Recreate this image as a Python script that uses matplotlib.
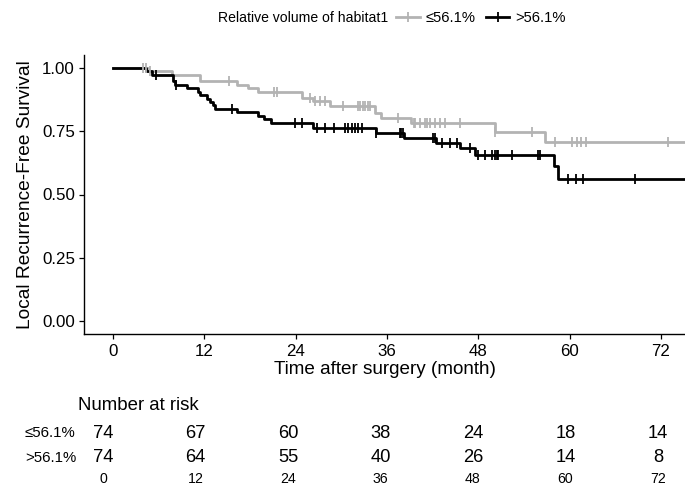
import numpy as np
import matplotlib
matplotlib.use("Agg")
import matplotlib.pyplot as plt
from matplotlib.lines import Line2D

# ── Kaplan-Meier curves ──────────────────────────────────────────────────
LOW_LABEL = "≤56.1%"
HIGH_LABEL = ">56.1%"

low_times = [0, 4.6, 7.7, 11.4, 16.3, 17.8, 19.1, 24.9, 26.3, 28.5,
             34.4, 35.2, 39.2, 50.2, 56.8]
low_surv = [1.0, 0.986, 0.973, 0.946, 0.932, 0.919, 0.905, 0.882, 0.870,
            0.848, 0.822, 0.802, 0.780, 0.745, 0.707]
low_censor = [4.0, 4.4, 4.9, 15.3, 21.1, 21.5, 25.9, 26.5, 27.2, 27.9,
              30.2, 32.2, 32.5, 32.8, 33.1, 33.5, 33.8, 37.5, 39.5, 39.7,
              40.3, 41.0, 41.2, 41.6, 42.3, 43.0, 43.6, 45.6, 50.2, 55.0,
              58.1, 60.3, 60.9, 61.5, 62.2, 72.9]

high_times = [0, 4.3, 5.1, 7.9, 8.2, 9.7, 11.2, 11.4, 12.3, 12.7, 13.2,
              13.4, 16.3, 19.1, 19.8, 20.8, 26.3, 34.5, 38.3, 42.4, 45.6,
              47.6, 57.9, 58.5]
high_surv = [1.0, 0.986, 0.973, 0.946, 0.932, 0.919, 0.905, 0.892, 0.878,
             0.865, 0.851, 0.838, 0.824, 0.810, 0.797, 0.783, 0.763, 0.744,
             0.724, 0.704, 0.685, 0.655, 0.612, 0.563]
high_censor = [5.6, 8.3, 15.6, 23.9, 24.8, 26.8, 27.9, 29.0, 30.5, 30.9,
               31.4, 31.8, 32.2, 32.7, 34.6, 37.7, 37.9, 38.1, 42.1, 42.3,
               43.2, 44.3, 45.2, 46.9, 48.0, 48.9, 49.8, 50.2, 50.4, 50.6,
               52.4, 55.9, 56.1, 59.8, 60.8, 61.8, 68.6]
follow_up_end = 80

risk_times = [0, 12, 24, 36, 48, 60, 72]
low_at_risk = [74, 67, 60, 38, 24, 18, 14]
high_at_risk = [74, 64, 55, 40, 26, 14, 8]

GREY = "#b3b3b3"
BLACK = "#000000"
FONT = ["Liberation Sans", "DejaVu Sans"]

plt.rcParams["font.family"] = FONT

W, H = 685, 488
fig = plt.figure(figsize=(W / 100, H / 100), dpi=100)
fig.patch.set_facecolor("white")

# main survival axes
ax = fig.add_axes([84 / W, 1 - 334 / H, 1 - 84 / W, (334 - 55) / H])


def draw_curve(times, surv, censor, color):
    t = np.append(times, follow_up_end)
    s = np.append(surv, surv[-1])
    ax.step(t, s, where="post", color=color, lw=2.0, zorder=2)
    idx = np.searchsorted(times, censor, side="right") - 1
    cy = np.asarray(surv)[idx]
    ax.plot(censor, cy, ls="none", marker="|", ms=6.5, mew=1.3,
            color=color, zorder=3)


draw_curve(low_times, low_surv, low_censor, GREY)
draw_curve(high_times, high_surv, high_censor, BLACK)

ax.set_xlim(-3.8, 75.15)
ax.set_ylim(-0.05, 1.05)
ax.set_xticks(risk_times)
ax.set_yticks([0, 0.25, 0.5, 0.75, 1.0])
ax.set_yticklabels([f"{v:.2f}" for v in [0, 0.25, 0.5, 0.75, 1.0]])
for s in ["top", "right"]:
    ax.spines[s].set_visible(False)
for s in ["left", "bottom"]:
    ax.spines[s].set_linewidth(1.0)
ax.tick_params(axis="both", length=3.5, width=0.9, labelsize=12.2,
               colors="black", pad=3)
ax.tick_params(axis="x", pad=4)
ax.set_xlabel("Time after surgery (month)", fontsize=13.6, labelpad=1)
ax.set_ylabel("Local Recurrence-Free Survival", fontsize=13.8, labelpad=6)

# legend on top
fig.text(388 / W, 1 - 18 / H, "Relative volume of habitat1", fontsize=10.1,
         ha="right", va="center")
handles = [Line2D([0], [0], color=GREY, lw=2.0, marker="|", ms=7, mew=1.3),
           Line2D([0], [0], color=BLACK, lw=2.0, marker="|", ms=7, mew=1.3)]
fig.legend(handles, [LOW_LABEL, HIGH_LABEL], loc="center left",
           bbox_to_anchor=(396 / W, 1 - 18 / H), ncol=2, frameon=False,
           fontsize=10.6, handlelength=1.6, handletextpad=0.4,
           columnspacing=0.7, borderpad=0, borderaxespad=0)

# number-at-risk table
rx = fig.add_axes([0, 0, 1, 1], zorder=-1)
rx.set_xlim(-103 / 7.708, (W - 103) / 7.708)
rx.set_ylim(H, 0)
rx.axis("off")
rx.text((78 - 103) / 7.708, 405, "Number at risk", fontsize=13.4,
        ha="left", va="center")
lab_x = (25 - 103) / 7.708
rx.text(lab_x, 433, LOW_LABEL, fontsize=10.8, ha="left", va="center")
rx.text(lab_x, 458, HIGH_LABEL, fontsize=10.8, ha="left", va="center")
for t, a, b in zip(risk_times, low_at_risk, high_at_risk):
    rx.text(t, 433, str(a), fontsize=13.2, ha="center", va="center")
    rx.text(t, 458, str(b), fontsize=13.2, ha="center", va="center")
    rx.text(t, 479, str(t), fontsize=10.2, ha="center", va="center")

fig.savefig("out.png", dpi=100, facecolor="white")
